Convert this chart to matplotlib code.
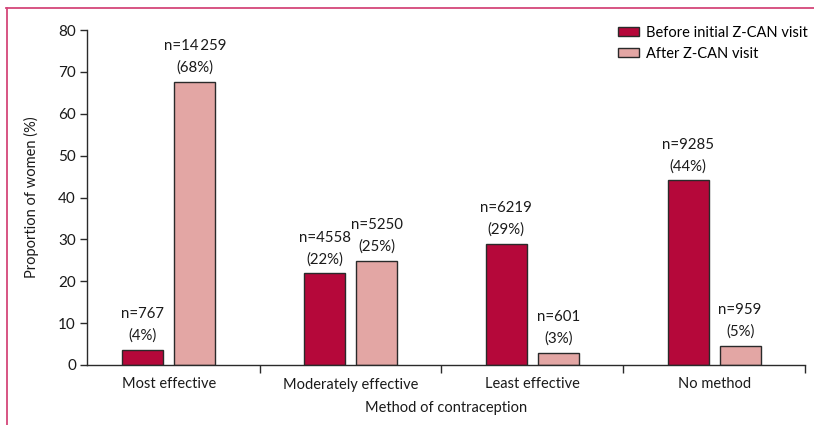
import matplotlib
matplotlib.use("Agg")
import matplotlib.pyplot as plt
from matplotlib.lines import Line2D
import numpy as np

categories = ["Most effective", "Moderately effective", "Least effective", "No method"]
before_vals = [3.7, 21.9, 29.0, 44.1]
after_vals = [67.7, 24.9, 2.85, 4.5]
before_n = ["767", "4558", "6219", "9285"]
after_n = ["14\u2009259", "5250", "601", "959"]
before_pct = [4, 22, 29, 44]
after_pct = [68, 25, 3, 5]
series_names = ["Before initial Z-CAN visit", "After Z-CAN visit"]
yticks = [0, 10, 20, 30, 40, 50, 60, 70, 80]

RED = "#b5083a"
PINK = "#e3a6a4"
EDGE = "#2a2a2a"
FRAME = "#d4477a"
TXT = "#1a1a1a"

plt.rcParams['font.family'] = ['Lato', 'DejaVu Sans']
plt.rcParams['font.size'] = 10.5

fig = plt.figure(figsize=(8.14, 4.25), dpi=100)
ax = fig.add_axes([87/814, 60/425, (805-87)/814, (365-30)/425])

x = np.arange(len(categories))
w = 0.225
off = 0.143
b1 = ax.bar(x - off, before_vals, w, color=RED, edgecolor=EDGE, linewidth=1.0, label=series_names[0])
b2 = ax.bar(x + off, after_vals, w, color=PINK, edgecolor=EDGE, linewidth=1.0, label=series_names[1])

for bars, ns, pcts in [(b1, before_n, before_pct), (b2, after_n, after_pct)]:
    for rect, n, p in zip(bars, ns, pcts):
        ax.annotate(f"n={n}\n({p}%)", (rect.get_x() + rect.get_width()/2, rect.get_height()),
                    xytext=(0, 5), textcoords="offset points", ha="center", va="bottom",
                    color=TXT, linespacing=1.65, fontsize=10.8)

ax.set_xlim(-0.45, len(categories) - 0.5)
ax.set_ylim(0, 80)
ax.set_yticks(yticks)
ax.set_xticks(x)
ax.set_xticklabels(categories, color=TXT)
ax.set_xticks(np.arange(len(categories)) + 0.5, minor=True)
ax.tick_params(axis="x", which="major", length=0, pad=9)
ax.tick_params(axis="x", which="minor", length=6, width=1.0, color=EDGE, direction="out")
ax.tick_params(axis="y", length=5, width=1.0, color=EDGE, labelcolor=TXT, labelsize=11, pad=3)
for s in ["top", "right"]:
    ax.spines[s].set_visible(False)
for s in ["left", "bottom"]:
    ax.spines[s].set_color(EDGE)
    ax.spines[s].set_linewidth(1.0)

ax.set_ylabel("Proportion of women (%)", color=TXT, labelpad=14)
ax.set_xlabel("Method of contraception", color=TXT, labelpad=7)

leg = fig.legend(handles=[b1, b2], labels=series_names, loc="upper left",
                 bbox_to_anchor=(618/814, 1 - 26/425), frameon=False,
                 handlelength=1.45, handleheight=0.6, handletextpad=0.5,
                 labelspacing=0.45, borderpad=0, borderaxespad=0, fontsize=10.5)

# pink frame lines (top and left)
fig.add_artist(Line2D([6/814, 1.0], [1 - 8/425, 1 - 8/425], transform=fig.transFigure,
                      color=FRAME, linewidth=1.3))
fig.add_artist(Line2D([7/814, 7/814], [0, 1 - 8/425], transform=fig.transFigure,
                      color=FRAME, linewidth=1.3))

fig.savefig("out.png", dpi=100)
